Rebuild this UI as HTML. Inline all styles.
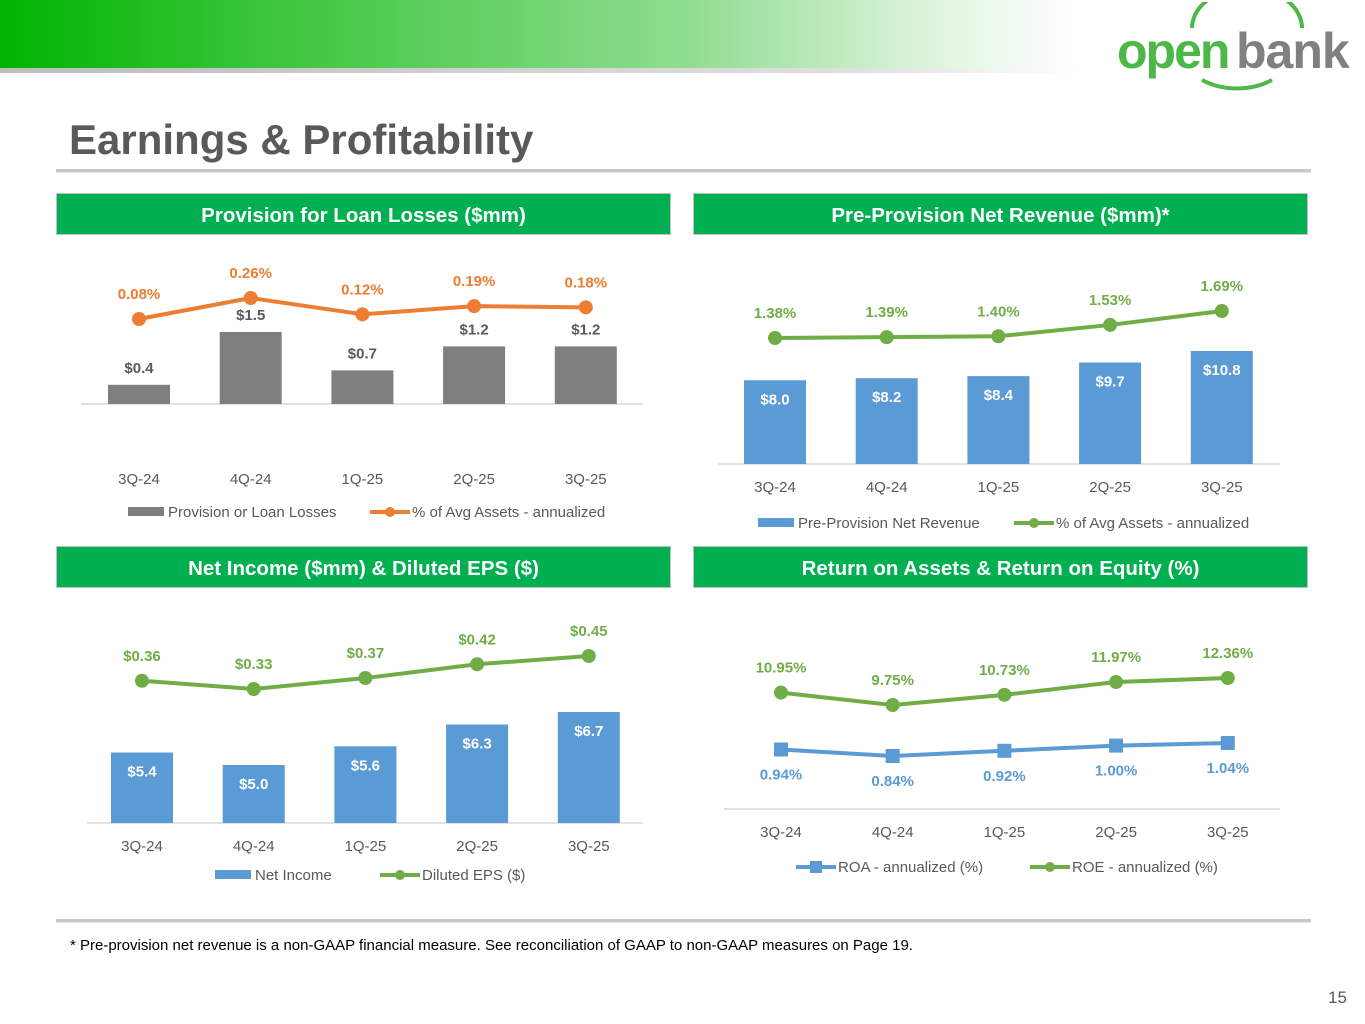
<!DOCTYPE html>
<html><head><meta charset="utf-8"><style>
body{margin:0;width:1365px;height:1024px;overflow:hidden;background:#fff;font-family:"Liberation Sans",sans-serif;position:relative}
.band{position:absolute;left:0;top:0;width:1365px;height:70px;background:linear-gradient(90deg,#00b400 0%,#3cc63c 20%,#8fdc8f 50%,#e4f6e4 70%,#fff 79%)}
.bandline{position:absolute;left:0;top:68px;width:1080px;height:5px;background:linear-gradient(90deg,#bdbdbd,#e0e0e0 80%,#fff)}
h1{position:absolute;left:69px;top:116px;margin:0;font-size:42px;font-weight:bold;color:#595959}
.rule{position:absolute;left:56px;width:1255px;height:3px;background:#c8c8c8;border-bottom:1px solid #e6e6e6}
.hdr{position:absolute;height:40px;width:613px;background:#00b050;border:1px solid #c0c0c0;color:#fff;font-weight:bold;font-size:20.5px;text-align:center;line-height:43px}
.foot{position:absolute;left:70px;top:937px;font-size:15px;color:#000}
.pg{position:absolute;left:1328px;top:988px;font-size:17px;color:#595959}
svg text{font-family:"Liberation Sans",sans-serif}
</style></head><body>
<div class="band"></div>
<div class="bandline"></div>
<div style="position:absolute;left:1112px;top:2px;width:250px;height:95px">
<svg width="250" height="95"><path d="M80,26 A55,40 0 0 1 190,26" fill="none" stroke="#4cb848" stroke-width="4"/><path d="M90,78 A60,45 0 0 0 160,78" fill="none" stroke="#4cb848" stroke-width="4"/>
<text x="5" y="66" font-size="50" font-weight="bold" fill="#4cb848" letter-spacing="-2">open</text><text x="124" y="66" font-size="50" font-weight="bold" fill="#808080" letter-spacing="-1">bank</text></svg></div>
<h1>Earnings &amp; Profitability</h1>
<div class="rule" style="top:169px"></div>
<div class="hdr" style="left:56px;top:193px">Provision for Loan Losses ($mm)</div>
<div class="hdr" style="left:693px;top:193px">Pre-Provision Net Revenue ($mm)*</div>
<div class="hdr" style="left:56px;top:546px">Net Income ($mm) &amp; Diluted EPS ($)</div>
<div class="hdr" style="left:693px;top:546px">Return on Assets &amp; Return on Equity (%)</div>
<div class="rule" style="top:919px"></div>
<div class="foot">* Pre-provision net revenue is a non-GAAP financial measure. See reconciliation of GAAP to non-GAAP measures on Page 19.</div>
<div class="pg">15</div>
<svg id="charts" width="1365" height="1024" style="position:absolute;left:0;top:0"></svg>
<script>
const categories=["3Q-24","4Q-24","1Q-25","2Q-25","3Q-25"];
const provisionValues=[0.4,1.5,0.7,1.2,1.2];
const provisionPct=[0.08,0.26,0.12,0.19,0.18];
const ppnrValues=[8.0,8.2,8.4,9.7,10.8];
const ppnrPct=[1.38,1.39,1.40,1.53,1.69];
const netIncomeValues=[5.4,5.0,5.6,6.3,6.7];
const epsValues=[0.36,0.33,0.37,0.42,0.45];
const roaValues=[0.94,0.84,0.92,1.00,1.04];
const roeValues=[10.95,9.75,10.73,11.97,12.36];

const S=document.getElementById('charts');
const NS='http://www.w3.org/2000/svg';
function mk(tag,attrs,name,txt){const e=document.createElementNS(NS,tag);for(const k in attrs)e.setAttribute(k,attrs[k]);


if(txt!==undefined)e.textContent=txt;S.appendChild(e);return e;}
function xAxis(x0){return i=>x0+i*111.7;}
function lin(v0,y0,v1,y1){return v=>y0+(v-v0)*(y1-y0)/(v1-v0);}

function chart(o){
  const X=xAxis(o.x0);
  mk('line',{x1:o.ax0,x2:o.ax1,y1:o.base,y2:o.base,stroke:'#d9d9d9','stroke-width':1.5},o.id+'-axis-line');
  categories.forEach((c,i)=>mk('text',{x:X(i),y:o.catY,'text-anchor':'middle','font-size':15,fill:'#595959'},o.id+'-x-tick',c));
  if(o.bars){o.bars.forEach((v,i)=>{const yt=o.by(v);
    mk('rect',{x:X(i)-31,y:yt,width:62,height:o.base-yt,fill:o.barColor},o.id+'-bar');
    if(o.barLabelInside) mk('text',{x:X(i),y:yt+24,'text-anchor':'middle','font-size':15,'font-weight':'bold',fill:'#fff'},o.id+'-bar-label','$'+v.toFixed(1));
    else mk('text',{x:X(i),y:yt-12,'text-anchor':'middle','font-size':15,'font-weight':'bold',fill:'#595959'},o.id+'-bar-label','$'+v.toFixed(1));
  });}
  o.lines.forEach(L=>{
    const pts=L.vals.map((v,i)=>X(i)+','+L.y(v)).join(' ');
    mk('polyline',{points:pts,fill:'none',stroke:L.color,'stroke-width':4,'stroke-linejoin':'round'},L.name+'-line');
    L.vals.forEach((v,i)=>{const y=L.y(v);
      if(L.square) mk('rect',{x:X(i)-7,y:y-7,width:14,height:14,fill:L.color},L.name+'-marker');
      else mk('circle',{cx:X(i),cy:y,r:7,fill:L.color},L.name+'-marker');
      mk('text',{x:X(i),y:y+L.lblOff,'text-anchor':'middle','font-size':15,'font-weight':'bold',fill:L.color},L.name+'-label',L.fmt(v));
    });
  });
  o.legend.forEach(g=>{
    if(g.type==='bar') mk('rect',{x:g.x,y:o.legY-10,width:36,height:9,fill:g.color},o.id+'-legend-swatch');
    else{mk('line',{x1:g.x,x2:g.x+40,y1:o.legY-5,y2:o.legY-5,stroke:g.color,'stroke-width':4},o.id+'-legend-swatch');
      if(g.square) mk('rect',{x:g.x+14,y:o.legY-11,width:12,height:12,fill:g.color},o.id+'-legend-marker');
      else mk('circle',{cx:g.x+20,cy:o.legY-5,r:5,fill:g.color},o.id+'-legend-marker');}
    mk('text',{x:g.x+(g.type==='bar'?40:42),y:o.legY,'font-size':15,fill:'#595959'},o.id+'-legend-label',g.label);
  });
}
chart({id:'provision',x0:139,ax0:81,ax1:643,base:404,catY:484,legY:517,
  bars:provisionValues,by:lin(0,404,1.5,332),barColor:'#7f7f7f',barLabelInside:false,
  lines:[{name:'provision-pct',vals:provisionPct,y:lin(0.08,319,0.26,298),color:'#ed7d31',lblOff:-20,fmt:v=>v.toFixed(2)+'%'}],
  legend:[{type:'bar',x:128,color:'#7f7f7f',label:'Provision or Loan Losses'},{type:'line',x:370,color:'#ed7d31',label:'% of Avg Assets - annualized'}]});
chart({id:'ppnr',x0:775,ax0:718,ax1:1280,base:464,catY:492,legY:528,
  bars:ppnrValues,by:lin(0,464,10.8,351),barColor:'#5b9bd5',barLabelInside:true,
  lines:[{name:'ppnr-pct',vals:ppnrPct,y:lin(1.38,338,1.69,311),color:'#70ad47',lblOff:-20,fmt:v=>v.toFixed(2)+'%'}],
  legend:[{type:'bar',x:758,color:'#5b9bd5',label:'Pre-Provision Net Revenue'},{type:'line',x:1014,color:'#70ad47',label:'% of Avg Assets - annualized'}]});
chart({id:'net-income',x0:142,ax0:87,ax1:643,base:823,catY:851,legY:880,
  bars:netIncomeValues,by:lin(5.0,765,6.7,712),barColor:'#5b9bd5',barLabelInside:true,
  lines:[{name:'eps',vals:epsValues,y:lin(0.33,689,0.45,656),color:'#70ad47',lblOff:-20,fmt:v=>'$'+v.toFixed(2)}],
  legend:[{type:'bar',x:215,color:'#5b9bd5',label:'Net Income'},{type:'line',x:380,color:'#70ad47',label:'Diluted EPS ($)'}]});
chart({id:'returns',x0:781,ax0:724,ax1:1280,base:809,catY:837,legY:872,
  lines:[{name:'roe',vals:roeValues,y:lin(9.75,705,12.36,678),color:'#70ad47',lblOff:-20,fmt:v=>v.toFixed(2)+'%'},
         {name:'roa',vals:roaValues,y:lin(0.84,756,1.04,743),color:'#5b9bd5',square:true,lblOff:30,fmt:v=>v.toFixed(2)+'%'}],
  legend:[{type:'line',x:796,color:'#5b9bd5',square:true,label:'ROA - annualized (%)'},{type:'line',x:1030,color:'#70ad47',label:'ROE - annualized (%)'}]});
</script>
</body></html>
